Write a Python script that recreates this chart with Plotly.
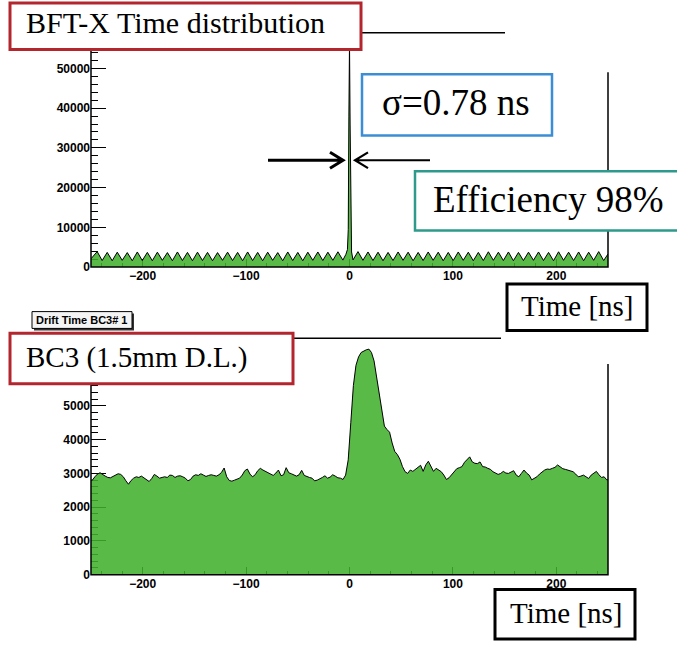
import plotly.graph_objects as go

# ---------------- data ----------------
# BFT-X time distribution (ns, counts): periodic baseline plus the timing peak
bft_time = [
    -250.0, -244.0, -239.2, -234.3, -229.5, -224.6, -219.8, -214.9, -210.1, -205.2,
    -200.4, -195.5, -190.7, -185.8, -181.0, -176.1, -171.3, -166.4, -161.6, -156.7,
    -151.9, -147.0, -142.2, -137.3, -132.5, -127.6, -122.8, -117.9, -113.1, -108.2,
    -103.4, -98.5, -93.7, -88.8, -84.0, -79.1, -74.3, -69.4, -64.6, -59.7,
    -54.9, -50.0, -45.2, -40.3, -35.5, -30.6, -25.8, -20.9, -16.1, -11.2,
    -6.4, -3.5, -2.0, -1.2, -0.6, 0.0, 0.6, 1.2, 2.0, 3.4,
    8.2, 13.0, 17.9, 22.7, 27.6, 32.4, 37.3, 42.1, 47.0, 51.8,
    56.7, 61.5, 66.4, 71.2, 76.1, 80.9, 85.8, 90.6, 95.5, 100.3,
    105.2, 110.0, 114.9, 119.7, 124.6, 129.4, 134.3, 139.1, 144.0, 148.8,
    153.7, 158.5, 163.4, 168.2, 173.1, 177.9, 182.8, 187.6, 192.5, 197.3,
    202.2, 207.0, 211.9, 216.7, 221.6, 226.4, 231.3, 236.1, 241.0, 245.8,
    250.0,
]
bft_counts = [
    2100, 3900, 1650, 3700, 1600, 3750, 1700, 3650, 1600, 3800,
    1650, 3700, 1600, 3750, 1700, 3650, 1600, 3800, 1650, 3700,
    1600, 3750, 1650, 3700, 1600, 3650, 1700, 3750, 1650, 3700,
    1600, 3800, 1650, 3700, 1600, 3750, 1700, 3650, 1600, 3800,
    1650, 3700, 1600, 3750, 1700, 3800, 1650, 3750, 1700, 3850,
    1750, 3200, 4400, 9500, 38000, 56500, 36000, 9000, 3800, 1800,
    3900, 1700, 3800, 1650, 3750, 1600, 3700, 1650, 3800, 1700,
    3750, 1600, 3700, 1650, 3800, 1700, 3750, 1600, 3700, 1650,
    3800, 1700, 3750, 1600, 3700, 1650, 3850, 1700, 3750, 1650,
    3800, 1600, 3700, 1650, 3750, 1700, 3800, 1650, 3700, 1600,
    3850, 1700, 3750, 1650, 3800, 1600, 3750, 1700, 3900, 1650,
    3300,
]

# BC3 drift time, 2.5 ns bins starting at -250 ns
bc3_first_edge = -250.0
bc3_bin_width = 2.5
bc3_counts = [
    2800, 2900, 2980, 3020, 2960, 2920, 2880, 2870, 2910, 2950,
    2990, 2970, 2900, 2780, 2680, 2790, 2860, 2900, 2880, 2920,
    2870, 2810, 2760, 2850, 2970, 2920, 2860, 2880, 2900, 2880,
    2950, 2940, 2880, 2920, 2930, 2900, 2860, 2780, 2820, 2920,
    2960, 2940, 2990, 2950, 2910, 2940, 2960, 2940, 2920, 2960,
    3030, 3160, 2900, 2790, 2770, 2800, 2820, 2860, 2950, 3080,
    3130, 2980, 2900, 2960, 3080, 3150, 3100, 3060, 3020, 2960,
    2940, 3010, 3100, 2930, 2960, 3170, 3020, 2990, 2960, 2920,
    2960, 3090, 2940, 2900, 2880, 2860, 2780, 2800, 2830, 2880,
    2930, 2860, 2890, 2960, 2920, 2870, 2860, 2820, 2950, 3400,
    4500, 5600, 6200, 6450, 6580, 6630, 6660, 6680, 6580, 6330,
    5850, 5400, 4900, 4400, 4300, 4220, 3900, 3650, 3560, 3420,
    3200, 3050, 3000, 3100, 3060, 3120, 3180, 3240, 3060, 3250,
    3360, 3230, 3060, 3150, 3090, 3050, 2950, 2820, 2870, 2960,
    3050, 3140, 3170, 3200, 3330, 3420, 3490, 3340, 3300, 3290,
    3340, 3200, 3190, 3150, 3120, 3050, 3020, 2970, 3000, 3060,
    3010, 3000, 3040, 3080, 2950, 2900, 3000, 3100, 3010, 2950,
    2810, 2850, 2900, 2980, 3050, 3100, 3130, 3120, 3150, 3180,
    3250, 3200, 3140, 3120, 3100, 3080, 3050, 2980, 2900, 2920,
    2950, 2900, 2850, 2950, 3000, 3060, 2960, 2880, 2900, 2810,
]

x_ticks = [-200, -100, 0, 100, 200]
top_y_ticks = [0, 10000, 20000, 30000, 40000, 50000]
bottom_y_ticks = [0, 1000, 2000, 3000, 4000, 5000, 6000]
bottom_y_text = ["0", "1000", "2000", "3000", "4000", "5000", ""]

# ---------------- styling helpers ----------------
W, H = 677, 649
FILL = "rgba(65,176,45,0.87)"
SERIF = "Liberation Serif, Times New Roman, serif"
SANS = "Liberation Sans, Arial, sans-serif"


def px(x):
    return x / W


def py(y):
    return 1 - y / H


# BC3 histogram drawn through its bin centres, with the outer edges closing it
bc3_x = [bc3_first_edge] + [bc3_first_edge + (i + 0.5) * bc3_bin_width
                            for i in range(len(bc3_counts))]
bc3_x.append(bc3_first_edge + len(bc3_counts) * bc3_bin_width)
bc3_y = [bc3_counts[0]] + bc3_counts + [bc3_counts[-1]]

fig = go.Figure()
fig.add_trace(go.Scatter(
    x=bft_time, y=bft_counts, mode="lines",
    line=dict(color="black", width=1), fill="tozeroy", fillcolor=FILL,
    xaxis="x", yaxis="y", hoverinfo="skip", showlegend=False,
))
fig.add_trace(go.Scatter(
    x=bc3_x, y=bc3_y, mode="lines",
    line=dict(color="black", width=1), fill="tozeroy", fillcolor=FILL,
    xaxis="x2", yaxis="y2", hoverinfo="skip", showlegend=False,
))

tick_font = dict(family=SANS, size=12, color="black", weight="bold")
x_common = dict(
    range=[-250, 250], tickvals=x_ticks, ticks="inside", ticklen=8,
    tickcolor="black", tickwidth=1.2, showgrid=False, zeroline=False,
    showline=False, layer="below traces", tickfont=tick_font,
    minor=dict(ticks="inside", ticklen=4, dtick=20, tick0=0,
               tickcolor="black", tickwidth=1, showgrid=False),
)
y_common = dict(
    ticks="inside", ticklen=15, tickcolor="black", tickwidth=1.2,
    showgrid=False, zeroline=False, showline=False, layer="below traces",
    tickfont=tick_font, tickformat="d",
)

fig.update_layout(
    width=W, height=H, autosize=False,
    margin=dict(l=0, r=0, t=0, b=0),
    paper_bgcolor="white", plot_bgcolor="white",
    xaxis=dict(domain=[px(91), px(608)], anchor="y", **x_common),
    yaxis=dict(domain=[py(270), py(33)], anchor="x", range=[0, 59000],
               tickvals=top_y_ticks,
               minor=dict(ticks="inside", ticklen=7, dtick=2000, tick0=0,
                          tickcolor="black", tickwidth=1, showgrid=False),
               **y_common),
    xaxis2=dict(domain=[px(91), px(608)], anchor="y2", **x_common),
    yaxis2=dict(domain=[py(581), py(342)], anchor="x2", range=[0, 7000],
                tickvals=bottom_y_ticks, ticktext=bottom_y_text,
                minor=dict(ticks="inside", ticklen=7, dtick=200, tick0=0,
                           tickcolor="black", tickwidth=1, showgrid=False),
                **y_common),
)

shapes = []
# histogram frames
for xr, yr in (("x domain", "y domain"), ("x2 domain", "y2 domain")):
    shapes.append(dict(type="rect", xref=xr, yref=yr, x0=0, x1=1, y0=0, y1=1,
                       line=dict(color="black", width=1.5),
                       fillcolor="rgba(0,0,0,0)", layer="above"))


def box(x0, y0, x1, y1, color, width, fill="white"):
    shapes.append(dict(type="rect", xref="paper", yref="paper",
                       x0=px(x0), x1=px(x1), y0=py(y1), y1=py(y0),
                       line=dict(color=color, width=width),
                       fillcolor=fill, layer="above"))


# white panels laid over the frame corners
box(505, -2, 680, 73, "white", 0)
box(501, 336, 680, 368, "white", 0)

# label boxes
box(10, 3, 361, 50, "#B3262D", 3)          # BFT-X title
box(362, 75, 552, 137, "#3B8ED5", 2.5)     # sigma
box(415, 173, 690, 233, "#2E9A8C", 2.5)    # efficiency
box(507, 287, 647, 334, "black", 3)        # Time [ns] (top)
box(34, 317, 134, 334, "#333333", 0, fill="#333333")  # title shadow
box(32, 315, 132, 332, "black", 1, fill="#F4F4F4")     # ROOT title
box(10, 337, 293, 388, "#B3262D", 3)       # BC3 title
box(495, 596, 635, 646, "black", 3)        # Time [ns] (bottom)


def arrow(x_tail, x_tip, y, width, back=13, spread=8):
    d = 1 if x_tip > x_tail else -1
    path = (f"M {px(x_tail)} {py(y)} L {px(x_tip)} {py(y)} "
            f"M {px(x_tip - d * back)} {py(y - spread)} L {px(x_tip)} {py(y)} "
            f"L {px(x_tip - d * back)} {py(y + spread)}")
    shapes.append(dict(type="path", xref="paper", yref="paper", path=path,
                       line=dict(color="black", width=width), layer="above"))


arrow(268, 343, 162, 3)
arrow(430, 355, 162, 2.2)

fig.update_layout(shapes=shapes)


def label(text, x, y, size, family=SERIF, xanchor="left", weight="normal"):
    fig.add_annotation(text=text, xref="paper", yref="paper",
                       x=px(x), y=py(y), xanchor=xanchor, yanchor="middle",
                       showarrow=False,
                       font=dict(family=family, size=size, color="black",
                                 weight=weight))


label("BFT-X Time distribution", 24, 23, 30)
label("σ=0.78 ns", 456, 104, 37, xanchor="center")
label("Efficiency 98%", 431, 202, 37)
label("Time [ns]", 577, 309, 29, xanchor="center")
label("Drift Time BC3# 1", 82, 323.5, 11, family=SANS, xanchor="center",
      weight="bold")
label("BC3 (1.5mm D.L.)", 24, 361, 29)
label("Time [ns]", 566, 620, 29, xanchor="center")

fig.write_html("out.html")
